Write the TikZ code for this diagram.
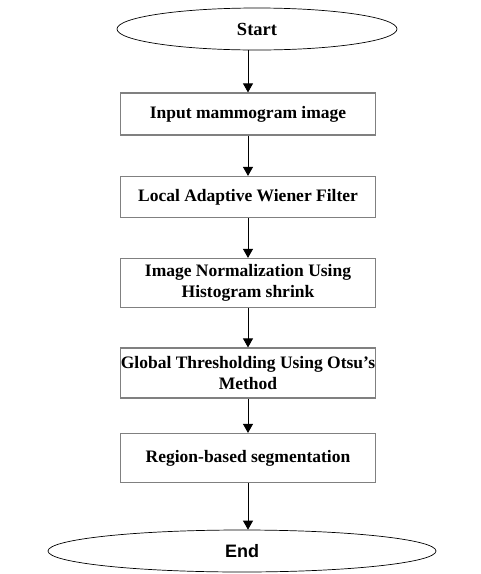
\documentclass[tikz,border=0pt]{standalone}
\usepackage{fontspec}
\setmainfont{Liberation Serif}
\newfontfamily\arialfont{Liberation Sans}
\usetikzlibrary{arrows.meta,shapes.geometric}

\begin{document}
\begin{tikzpicture}[x=1pt, y=-1pt, font=\fontsize{17.5}{21}\selectfont\bfseries, >={Triangle[length=9pt,width=10pt]}]
	\tikzstyle{terminal} = [ellipse, draw, line width=0.7pt, inner sep=0pt]
	\tikzstyle{process} = [rectangle, draw=gray, line width=1.2pt, minimum width=255pt, align=center, inner sep=0pt]

	\useasboundingbox (0, 0) rectangle (481, 574);

	\node[terminal, minimum width=280pt, minimum height=42pt, font=\fontsize{18.5}{21}\selectfont\bfseries] (start) at (257, 29) {Start};

	\foreach \index/\ypos/\h/\text in {1/114/42pt/{Input mammogram image}, 2/197/41pt/{Local Adaptive Wiener Filter}, 3/283/49pt/{Image Normalization Using\\Histogram shrink}, 4/373/50pt/{Global Thresholding Using Otsu's\\Method}, 5/458/49pt/{Region-based segmentation}} {
		\node[process, minimum height=\h] (step-\index) at (248, \ypos) {\text};
	}

	\node[terminal, minimum width=388pt, minimum height=42pt, font=\arialfont\fontsize{18}{21}\selectfont\bfseries] (stop) at (242, 551) {End};

	\draw[->, line width=0.9pt] (step-1.north |- start.south) -- (step-1.north);
	\foreach \a/\b in {1/2, 2/3, 3/4, 4/5}
		\draw[->, line width=0.9pt] (step-\a) -- (step-\b);
	\draw[->, line width=0.9pt] (step-5.south) -- (step-5.south |- stop.north);
\end{tikzpicture}
\end{document}
